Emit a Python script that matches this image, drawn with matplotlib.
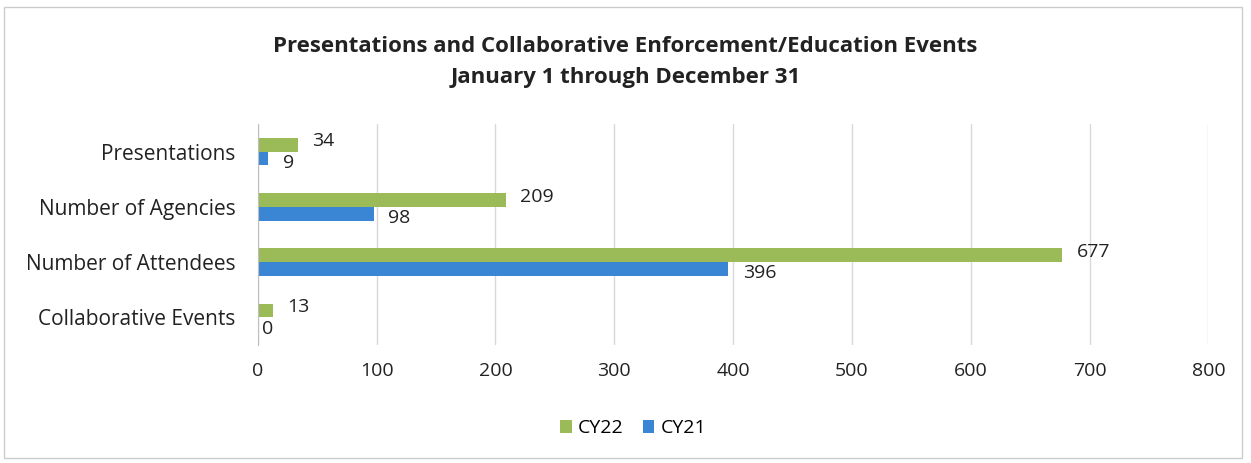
import matplotlib.pyplot as plt
import numpy as np

categories = ['Presentations', 'Number of Agencies', 'Number of Attendees', 'Collaborative Events']
cy22 = [34, 209, 677, 13]
cy21 = [9, 98, 396, 0]

green = '#9BBB59'
blue = '#3A86D4'

plt.rcParams['font.family'] = ['Open Sans', 'DejaVu Sans']

fig = plt.figure(figsize=(12.51, 4.63), dpi=100)
ax = fig.add_axes([0.206, 0.255, 0.76, 0.477])

y = np.arange(len(categories))
h = 0.25
b1 = ax.barh(y - h / 2, cy22, height=h, color=green, label='CY22')
b2 = ax.barh(y + h / 2, cy21, height=h, color=blue, label='CY21')

for rect, v in zip(b1, cy22):
    ax.text(v + 12, rect.get_y() + rect.get_height() / 2 - 0.06, str(v),
            va='center', ha='left', fontsize=14, color='#222222')
for rect, v in zip(b2, cy21):
    ax.text(v + (4 if v == 0 else 12), rect.get_y() + rect.get_height() / 2 + 0.08, str(v),
            va='center', ha='left', fontsize=14, color='#222222')

ax.set_xlim(0, 800)
ax.set_xticks(range(0, 801, 100))
ax.set_ylim(3.5, -0.5)
ax.set_yticks(y)
ax.set_yticklabels(categories)
ax.tick_params(axis='both', length=0, labelsize=14, colors='#222222')
ax.tick_params(axis='y', labelsize=15)
ax.tick_params(axis='x', pad=12)
ax.tick_params(axis='y', pad=16)
ax.grid(axis='x', color='#d9d9d9', linewidth=1)
ax.set_axisbelow(True)
for s in ['top', 'right', 'bottom']:
    ax.spines[s].set_visible(False)
ax.spines['left'].set_color('#bfbfbf')

fig.text(0.5, 0.9, 'Presentations and Collaborative Enforcement/Education Events',
         ha='center', va='center', fontsize=16, fontweight='bold', color='#222222')
fig.text(0.5, 0.832, 'January 1 through December 31',
         ha='center', va='center', fontsize=16, fontweight='bold', color='#222222')

fig.legend(handles=[b1, b2], loc='center', bbox_to_anchor=(0.506, 0.075), ncol=2,
           frameon=False, fontsize=14, handlelength=0.6, handleheight=0.6,
           handletextpad=0.3, columnspacing=1.0)

fig.patches.append(plt.Rectangle((0.003, 0.01), 0.99, 0.975, transform=fig.transFigure,
                                 fill=False, edgecolor='#cccccc', linewidth=1))

fig.savefig('out.png', dpi=100, facecolor='white')
